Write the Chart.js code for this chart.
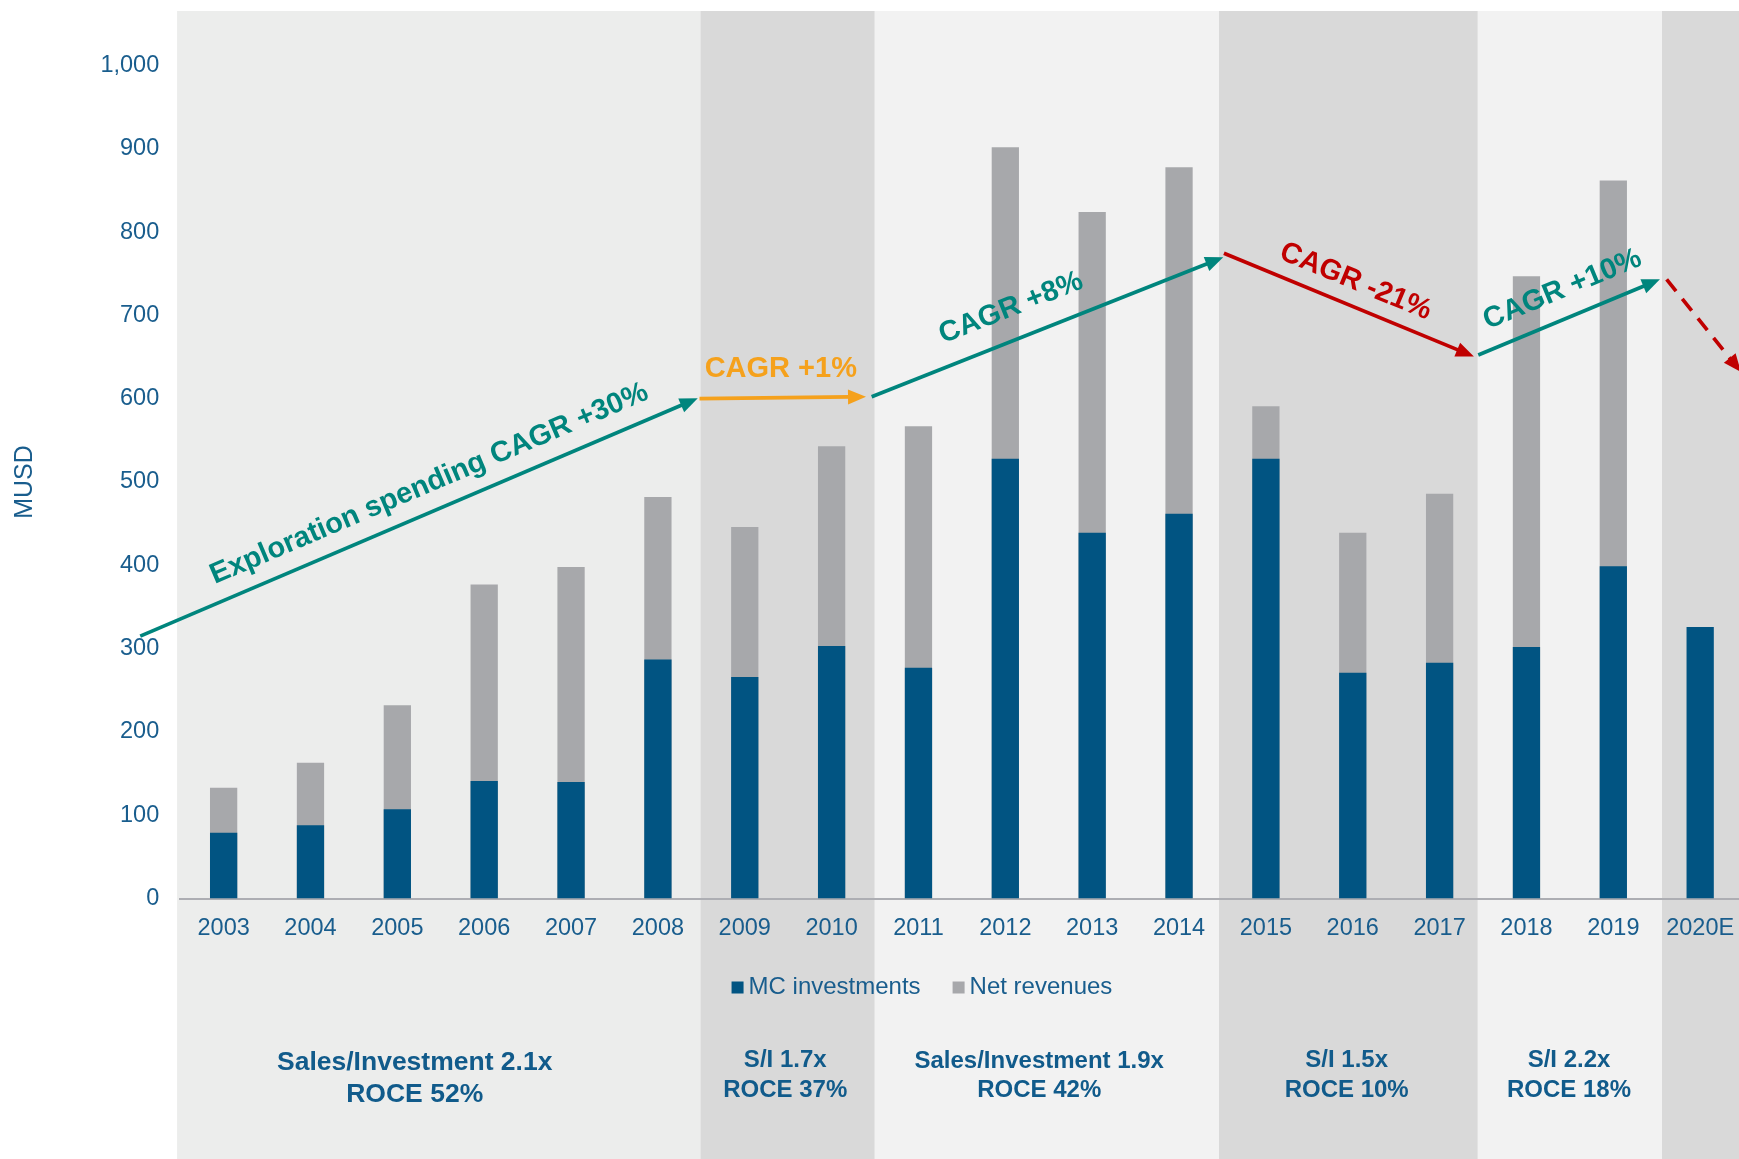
<!DOCTYPE html>
<html>
<head>
<meta charset="utf-8">
<title>Exploration spending vs. net revenues</title>
<script src="https://cdn.jsdelivr.net/npm/chart.js@4.4.1/dist/chart.umd.min.js"></script>
<style>
  html, body { margin: 0; padding: 0; background: #ffffff; overflow: hidden; }
  #wrap { position: absolute; left: 0; top: 0; width: 1760px; height: 1159px; }
</style>
</head>
<body>
<div id="wrap"><canvas id="chart" width="1760" height="1159"></canvas></div>
<script>
// ---- Data (MUSD) ----
const categories = ['2003', '2004', '2005', '2006', '2007', '2008', '2009', '2010', '2011',
  '2012', '2013', '2014', '2015', '2016', '2017', '2018', '2019', '2020E'];
const mcInvestments = [79, 88, 107, 141, 140, 287, 266, 303, 277, 528, 439, 462, 528, 271, 283, 302, 399, 326];
const netRevenues = [133, 163, 232, 377, 398, 482, 446, 543, 567, 902, 824, 878, 591, 439, 486, 747, 862, null];
const seriesNames = ['MC investments', 'Net revenues'];
const valueAxisMax = 1000;
const valueAxisStep = 100;
const valueAxisTitle = 'MUSD';

// Period summaries shown under the axis
const periodRatios = ['Sales/Investment 2.1x', 'S/I 1.7x', 'Sales/Investment 1.9x', 'S/I 1.5x', 'S/I 2.2x'];
const periodRoce = ['ROCE 52%', 'ROCE 37%', 'ROCE 42%', 'ROCE 10%', 'ROCE 18%'];
const trendLabels = ['Exploration spending CAGR +30%', 'CAGR +1%', 'CAGR +8%', 'CAGR -21%', 'CAGR +10%'];

// ---- Styling / placement ----
const FONT = '"Liberation Sans", Arial, Helvetica, sans-serif';
const TEXT_BLUE = '#195d8d';
const BAR_BLUE = '#015482';
const BAR_GREY = '#a7a8ab';
const TEAL = '#00857d';
const RED = '#c00000';
const ORANGE = '#f5a11c';

// shaded period bands, in category-index units
const bands = [
  { from: -0.536, to: 5.49, color: '#ecedec' },
  { from: 5.49, to: 7.497, color: '#d9d9d9' },
  { from: 7.497, to: 11.46, color: '#f2f2f2' },
  { from: 11.46, to: 14.44, color: '#d9d9d9' },
  { from: 14.44, to: 16.56, color: '#f2f2f2' },
  { from: 16.56, to: 18.6, color: '#d9d9d9' }
];
const BAND_TOP = 11;

// trend arrows: endpoints as [category index, MUSD]
const trendArrows = [
  { from: [-0.960, 315], to: [5.459, 600.5], color: TEAL, label: 0, at: 0.537, offset: 26.6 },
  { from: [5.479, 600.2], to: [7.396, 602.4], color: ORANGE, label: 1, at: 0.49, offset: 29, level: true },
  { from: [7.461, 602.4], to: [11.509, 769.7], color: TEAL, label: 2, at: 0.429, offset: 31 },
  { from: [11.517, 774.6], to: [14.395, 650.7], color: RED, label: 3, at: 0.49, offset: 24 },
  { from: [14.445, 652.5], to: [16.537, 743.3], color: TEAL, label: 4, at: 0.523, offset: 28 },
  { from: [16.614, 743.3], to: [17.47, 632], color: RED, dashed: true }
];

// period summary anchors (category index) and text settings
const periodAnchors = [2.2, 6.466, 9.39, 12.93, 15.49];
const periodFontSizes = [26.5, 24, 24, 24, 24];
const periodLineY = [[1062.5, 1095], [1060.8, 1090.5], [1061.5, 1090.5], [1060.8, 1090.5], [1060.8, 1090.5]];

const LEGEND_ANCHOR = 8.04;
const LEGEND_Y = 987.5;

const periodShading = {
  id: 'periodShading',
  beforeDraw(chart) {
    const { ctx } = chart;
    const x = chart.scales.x;
    ctx.save();
    for (const b of bands) {
      const x1 = x.getPixelForValue(b.from);
      const x2 = x.getPixelForValue(b.to);
      ctx.fillStyle = b.color;
      ctx.fillRect(x1, BAND_TOP, x2 - x1, chart.height - BAND_TOP);
    }
    ctx.restore();
  }
};

const trendAnnotations = {
  id: 'trendAnnotations',
  afterDatasetsDraw(chart) {
    const { ctx } = chart;
    const x = chart.scales.x, y = chart.scales.y;
    for (const a of trendArrows) {
      const x1 = x.getPixelForValue(a.from[0]), y1 = y.getPixelForValue(a.from[1]);
      const x2 = x.getPixelForValue(a.to[0]), y2 = y.getPixelForValue(a.to[1]);
      const ang = Math.atan2(y2 - y1, x2 - x1);
      const cos = Math.cos(ang), sin = Math.sin(ang);
      const head = 18, half = 7.5;
      const bx = x2 - head * cos, by = y2 - head * sin;
      ctx.save();
      ctx.strokeStyle = a.color;
      ctx.fillStyle = a.color;
      ctx.lineWidth = 3.7;
      ctx.lineCap = 'butt';
      ctx.setLineDash(a.dashed ? [15, 10] : []);
      ctx.beginPath();
      ctx.moveTo(x1, y1);
      ctx.lineTo(bx + 2 * cos, by + 2 * sin);
      ctx.stroke();
      ctx.setLineDash([]);
      ctx.beginPath();
      ctx.moveTo(x2, y2);
      ctx.lineTo(bx + half * sin, by - half * cos);
      ctx.lineTo(bx - half * sin, by + half * cos);
      ctx.closePath();
      ctx.fill();
      if (a.label !== undefined) {
        const px = x1 + (x2 - x1) * a.at, py = y1 + (y2 - y1) * a.at;
        const tx = px + a.offset * sin, ty = py - a.offset * cos;
        ctx.translate(tx, ty);
        ctx.rotate(a.level ? 0 : ang);
        ctx.font = 'bold 29px ' + FONT;
        ctx.textAlign = 'center';
        ctx.textBaseline = 'middle';
        ctx.fillText(trendLabels[a.label], 0, 0);
      }
      ctx.restore();
    }
  }
};

const bottomTexts = {
  id: 'bottomTexts',
  afterDraw(chart) {
    const { ctx } = chart;
    const x = chart.scales.x;
    ctx.save();
    // legend
    ctx.font = '24px ' + FONT;
    ctx.textBaseline = 'middle';
    ctx.textAlign = 'left';
    const box = 12, gap = 5, spacing = 32;
    const items = chart.data.datasets.map(ds => ({ label: ds.label, color: ds.backgroundColor, w: ctx.measureText(ds.label).width }));
    const total = items.reduce((s, it) => s + box + gap + it.w, 0) + spacing * (items.length - 1);
    let cx = x.getPixelForValue(LEGEND_ANCHOR) - total / 2;
    for (const it of items) {
      ctx.fillStyle = it.color;
      ctx.fillRect(cx, LEGEND_Y - box / 2, box, box);
      cx += box + gap;
      ctx.fillStyle = TEXT_BLUE;
      ctx.fillText(it.label, cx, LEGEND_Y);
      cx += it.w + spacing;
    }
    // period summaries
    ctx.textAlign = 'center';
    ctx.fillStyle = '#115b8b';
    periodRatios.forEach((txt, i) => {
      const px = x.getPixelForValue(periodAnchors[i]);
      ctx.font = 'bold ' + periodFontSizes[i] + 'px ' + FONT;
      ctx.fillText(txt, px, periodLineY[i][0]);
      ctx.fillText(periodRoce[i], px, periodLineY[i][1]);
    });
    ctx.restore();
  }
};

new Chart(document.getElementById('chart'), {
  type: 'bar',
  data: {
    labels: categories,
    datasets: [
      { label: seriesNames[0], data: mcInvestments, backgroundColor: BAR_BLUE, grouped: false },
      { label: seriesNames[1], data: netRevenues, backgroundColor: BAR_GREY, grouped: false }
    ]
  },
  options: {
    responsive: false,
    animation: false,
    devicePixelRatio: 1,
    locale: 'en-US',
    layout: { padding: { top: 65.5, right: 16.4, bottom: 0, left: 0 } },
    datasets: { bar: { categoryPercentage: 1, barPercentage: 0.314 } },
    plugins: {
      legend: { display: false },
      tooltip: { enabled: false },
      title: { display: false }
    },
    scales: {
      x: {
        offset: true,
        grid: { display: false, drawTicks: false },
        border: { display: true, color: '#adaeb3', width: 2 },
        ticks: { color: TEXT_BLUE, font: { family: FONT, size: 23.5 }, padding: 16, maxRotation: 0, autoSkip: false },
        afterFit(scale) { scale.height = 260.5; }
      },
      y: {
        min: 0,
        max: valueAxisMax,
        grid: { display: false, drawTicks: false },
        border: { display: false },
        ticks: { stepSize: valueAxisStep, color: TEXT_BLUE, font: { family: FONT, size: 23.5 }, padding: 21 },
        title: { display: true, text: valueAxisTitle, color: TEXT_BLUE, font: { family: FONT, size: 25 }, padding: { top: 10, bottom: 0 } },
        afterFit(scale) { scale.width = 180.2; }
      }
    }
  },
  plugins: [periodShading, trendAnnotations, bottomTexts]
});
</script>
</body>
</html>
